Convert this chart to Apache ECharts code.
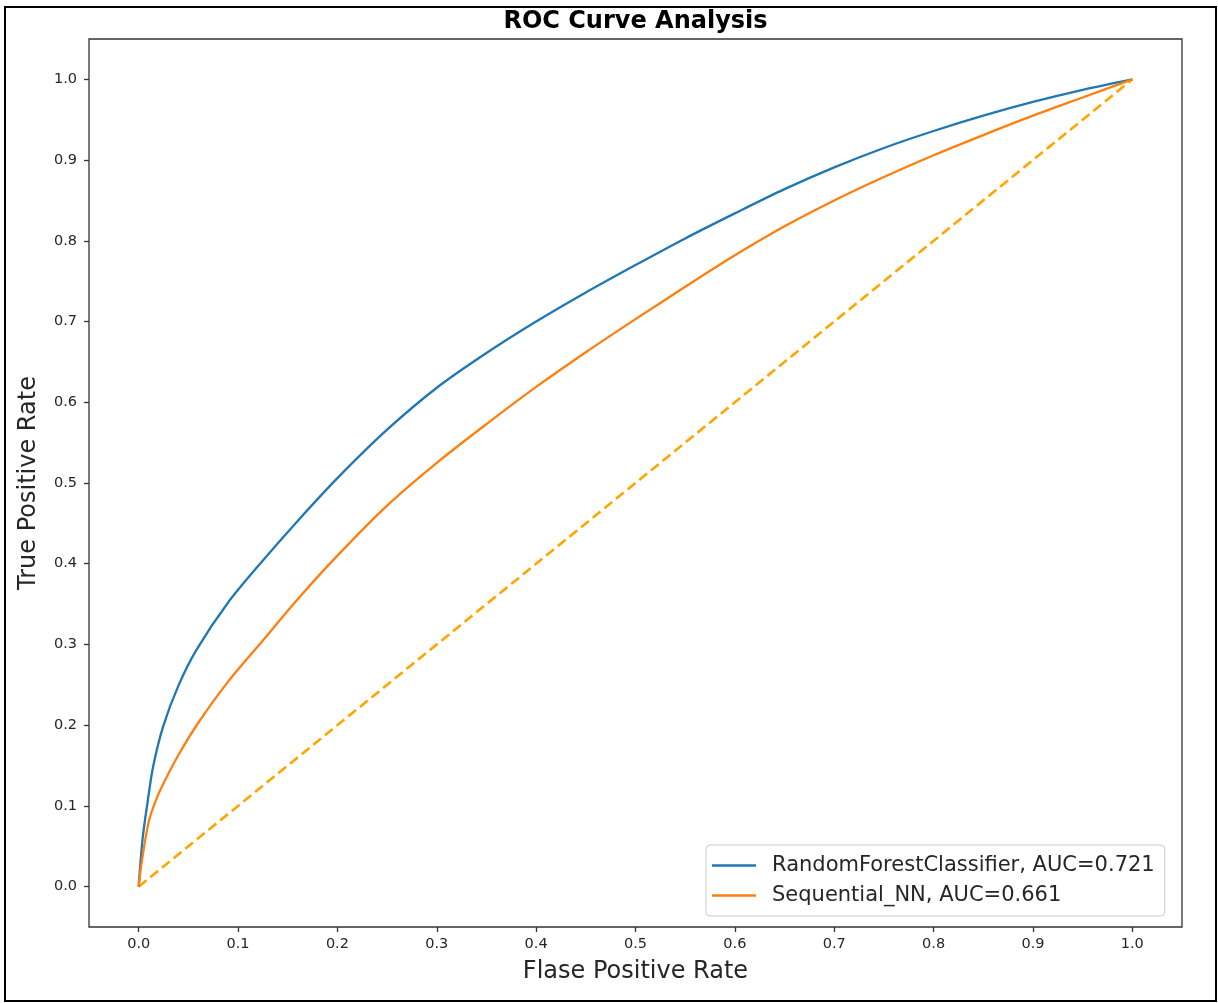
<!DOCTYPE html>
<html>
<head>
<meta charset="utf-8">
<script src="https://cdn.jsdelivr.net/npm/echarts@6/dist/echarts.min.js"></script>
<style>
  html, body { margin: 0; padding: 0; background: #ffffff; }
  #chart { width: 1218px; height: 1003px; }
</style>
</head>
<body>
<div id="chart"></div>
<script>
// ROC points: false positive rate / true positive rate per model
const fprRF = [0, 0.004, 0.009, 0.0144, 0.0245, 0.04, 0.058, 0.09, 0.125, 0.16, 0.2, 0.25, 0.3, 0.35, 0.4, 0.45, 0.5, 0.55, 0.6, 0.65, 0.7, 0.75, 0.8, 0.85, 0.9, 0.95, 1.0];
const tprRF = [0, 0.060, 0.105, 0.148, 0.198, 0.249, 0.293, 0.352, 0.404, 0.453, 0.506, 0.566, 0.618, 0.661, 0.700, 0.736, 0.770, 0.803, 0.834, 0.864, 0.891, 0.915, 0.936, 0.955, 0.972, 0.987, 1.0];

const fprNN = [0, 0.003, 0.01, 0.017, 0.025, 0.04, 0.06, 0.09, 0.125, 0.16, 0.2, 0.25, 0.3, 0.35, 0.4, 0.45, 0.5, 0.55, 0.6, 0.65, 0.7, 0.75, 0.8, 0.85, 0.9, 0.95, 1.0];
const tprNN = [0, 0.030, 0.080, 0.106, 0.128, 0.163, 0.203, 0.254, 0.305, 0.356, 0.410, 0.472, 0.525, 0.573, 0.619, 0.662, 0.703, 0.743, 0.782, 0.818, 0.850, 0.879, 0.906, 0.931, 0.955, 0.9775, 1.0];

// Chance diagonal
const chanceFpr = [0, 1];
const chanceTpr = [0, 1];

const modelNames = ['RandomForestClassifier, AUC=0.721', 'Sequential_NN, AUC=0.661'];
const tickValues = [0, 0.1, 0.2, 0.3, 0.4, 0.5, 0.6, 0.7, 0.8, 0.9, 1.0];

const pairs = (xs, ys) => xs.map((x, i) => [x, ys[i]]);

const chart = echarts.init(document.getElementById('chart'), null, { renderer: 'canvas' });

const tickFont = { fontFamily: 'DejaVu Sans', fontSize: 14.5, color: '#262626' };

chart.setOption({
  animation: false,
  backgroundColor: '#ffffff',
  title: {
    text: 'ROC Curve Analysis',
    left: 635.5,
    top: 10,
    textAlign: 'center',
    padding: 0,
    textStyle: { fontFamily: 'DejaVu Sans', fontWeight: 'bold', fontSize: 24, color: '#000' }
  },
  graphic: [
    { type: 'rect', silent: true, z: -1,
      shape: { x: 5, y: 7, width: 1211, height: 994 },
      style: { fill: null, stroke: '#000', lineWidth: 2 } }
  ],
  legend: {
    orient: 'vertical',
    left: 706,
    top: 845,
    width: 460,
    data: modelNames,
    icon: 'rect',
    itemWidth: 44,
    itemHeight: 2.5,
    itemGap: 9,
    padding: [10, 10, 10, 6],
    backgroundColor: 'rgba(255,255,255,0.85)',
    borderColor: '#cccccc',
    borderWidth: 1,
    borderRadius: 4,
    textStyle: { fontFamily: 'DejaVu Sans', fontSize: 21, color: '#262626', padding: [0, 0, 0, 11] }
  },
  grid: {
    left: 89, top: 39, right: 36, bottom: 76,
    show: true,
    borderColor: '#333333',
    borderWidth: 1.3,
    backgroundColor: '#ffffff'
  },
  xAxis: {
    type: 'value',
    min: -0.05,
    max: 1.05,
    name: 'Flase Positive Rate',
    nameLocation: 'middle',
    nameGap: 33,
    nameTextStyle: { fontFamily: 'DejaVu Sans', fontSize: 24, color: '#262626' },
    axisLine: { show: false, onZero: false },
    splitLine: { show: false },
    axisTick: { show: true, length: 5, inside: false, customValues: tickValues,
      lineStyle: { color: '#333333', width: 1.3 } },
    axisLabel: { show: true, margin: 10, customValues: tickValues,
      formatter: v => v.toFixed(1), ...tickFont }
  },
  yAxis: {
    type: 'value',
    min: -0.05,
    max: 1.05,
    name: 'True Positive Rate',
    nameLocation: 'middle',
    nameGap: 48,
    nameTextStyle: { fontFamily: 'DejaVu Sans', fontSize: 24, color: '#262626' },
    axisLine: { show: false, onZero: false },
    splitLine: { show: false },
    axisTick: { show: true, length: 5, inside: false, customValues: tickValues,
      lineStyle: { color: '#333333', width: 1.3 } },
    axisLabel: { show: true, margin: 12, customValues: tickValues,
      formatter: v => v.toFixed(1), ...tickFont }
  },
  series: [
    {
      name: modelNames[0],
      type: 'line',
      data: pairs(fprRF, tprRF),
      symbol: 'none',
      smooth: 0.3,
      color: '#1f77b4',
      lineStyle: { color: '#1f77b4', width: 2.3 },
      z: 3
    },
    {
      name: modelNames[1],
      type: 'line',
      data: pairs(fprNN, tprNN),
      symbol: 'none',
      smooth: 0.3,
      color: '#ff7f0e',
      lineStyle: { color: '#ff7f0e', width: 2.3 },
      z: 4
    },
    {
      name: 'chance',
      type: 'line',
      data: pairs(chanceFpr, chanceTpr),
      symbol: 'none',
      color: '#ffa500',
      lineStyle: { color: '#ffa500', width: 2.6, type: [10, 5] },
      z: 2
    }
  ]
});
</script>
</body>
</html>
